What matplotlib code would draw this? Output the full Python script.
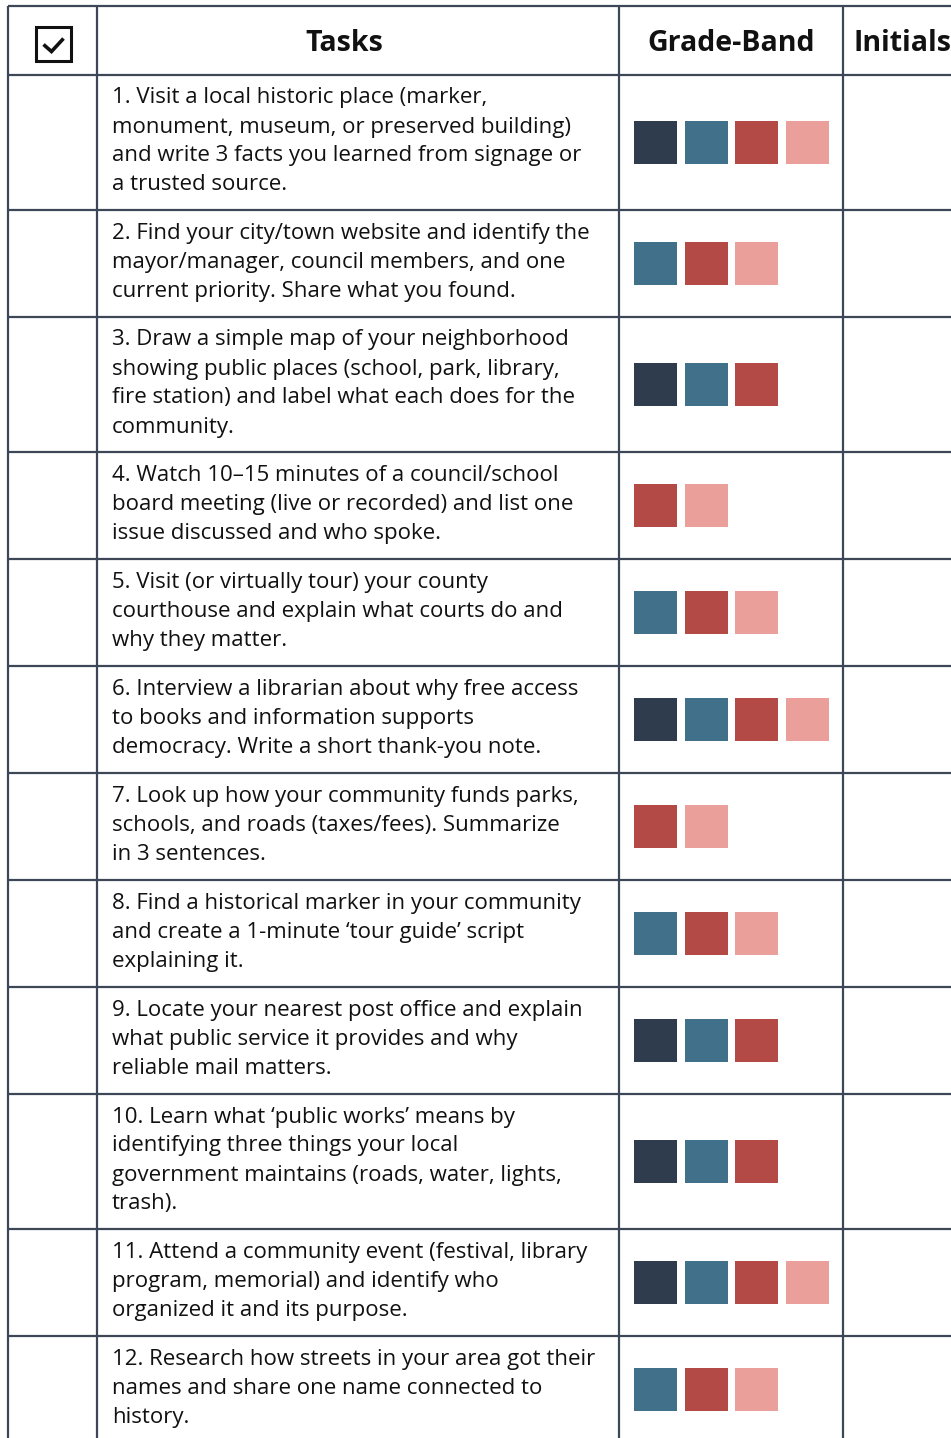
import matplotlib.pyplot as plt
from matplotlib.patches import Rectangle

# ---- data -------------------------------------------------------------
headers = ["Tasks", "Grade-Band", "Initials"]

tasks = [
    "1. Visit a local historic place (marker,\nmonument, museum, or preserved building)\nand write 3 facts you learned from signage or\na trusted source.",
    "2. Find your city/town website and identify the\nmayor/manager, council members, and one\ncurrent priority. Share what you found.",
    "3. Draw a simple map of your neighborhood\nshowing public places (school, park, library,\nfire station) and label what each does for the\ncommunity.",
    "4. Watch 10\u201315 minutes of a council/school\nboard meeting (live or recorded) and list one\nissue discussed and who spoke.",
    "5. Visit (or virtually tour) your county\ncourthouse and explain what courts do and\nwhy they matter.",
    "6. Interview a librarian about why free access\nto books and information supports\ndemocracy. Write a short thank-you note.",
    "7. Look up how your community funds parks,\nschools, and roads (taxes/fees). Summarize\nin 3 sentences.",
    "8. Find a historical marker in your community\nand create a 1-minute \u2018tour guide\u2019 script\nexplaining it.",
    "9. Locate your nearest post office and explain\nwhat public service it provides and why\nreliable mail matters.",
    "10. Learn what \u2018public works\u2019 means by\nidentifying three things your local\ngovernment maintains (roads, water, lights,\ntrash).",
    "11. Attend a community event (festival, library\nprogram, memorial) and identify who\norganized it and its purpose.",
    "12. Research how streets in your area got their\nnames and share one name connected to\nhistory.",
]

grade_bands = [
    ["K-2", "3-5", "6-8", "9-12"],
    ["3-5", "6-8", "9-12"],
    ["K-2", "3-5", "6-8"],
    ["6-8", "9-12"],
    ["3-5", "6-8", "9-12"],
    ["K-2", "3-5", "6-8", "9-12"],
    ["6-8", "9-12"],
    ["3-5", "6-8", "9-12"],
    ["K-2", "3-5", "6-8"],
    ["K-2", "3-5", "6-8"],
    ["K-2", "3-5", "6-8", "9-12"],
    ["3-5", "6-8", "9-12"],
]

band_colors = {"K-2": "#2F3C4E", "3-5": "#41708A", "6-8": "#B44A46", "9-12": "#EA9F9B"}

# ---- layout (pixels) --------------------------------------------------
W, H = 951, 1438
col_x = [8, 97, 619, 843, 1060]
top = 6
header_h = 69
line_h = 28.0
row_pad = 23.0
sq = 43
sq_step = 50.5
line_color = "#3D4757"
font = ["Open Sans", "DejaVu Sans"]

fig = plt.figure(figsize=(W / 100, H / 100), dpi=100)
ax = fig.add_axes([0, 0, 1, 1])
ax.set_xlim(0, W)
ax.set_ylim(H, 0)
ax.axis("off")

# row boundaries
row_tops = [top, top + header_h]
for t in tasks:
    n = t.count("\n") + 1
    row_tops.append(row_tops[-1] + n * line_h + row_pad)

bottom = row_tops[-1]

# grid lines
for y in row_tops:
    ax.plot([col_x[0], col_x[-1]], [y, y], color=line_color, lw=1.6, solid_capstyle="butt")
for x in col_x[:-1]:
    ax.plot([x, x], [top, bottom], color=line_color, lw=1.6, solid_capstyle="butt")

# header
hy = top + header_h / 2 + 3
hstyle = dict(va="center", fontsize=20.5, fontweight="bold", family=font, color="#111111")
ax.text(344, hy, headers[0], ha="center", **hstyle)
ax.text((col_x[2] + col_x[3]) / 2, hy, headers[1], ha="center", **hstyle)
ax.text(col_x[3] + 11, hy, headers[2], ha="left", **hstyle)

# checkbox icon
ax.add_patch(Rectangle((36, 27), 35, 34, fill=False, ec="#111111", lw=2.2))
ax.plot([43.5, 51.5, 63.5], [44.5, 51.5, 38.5], color="#111111", lw=2.6,
        solid_capstyle="butt", solid_joinstyle="miter")

# rows
for i, (task, bands) in enumerate(zip(tasks, grade_bands)):
    y0, y1 = row_tops[i + 1], row_tops[i + 2]
    yc = (y0 + y1) / 2
    ax.text(col_x[1] + 15, yc - 1, task, ha="left", va="center", fontsize=16,
            family=font, color="#111111", linespacing=1.5)
    for j, b in enumerate(bands):
        ax.add_patch(Rectangle((634 + j * sq_step, yc - sq / 2), sq, sq,
                               color=band_colors[b], lw=0))

fig.savefig("out.png", dpi=100, facecolor="white")
